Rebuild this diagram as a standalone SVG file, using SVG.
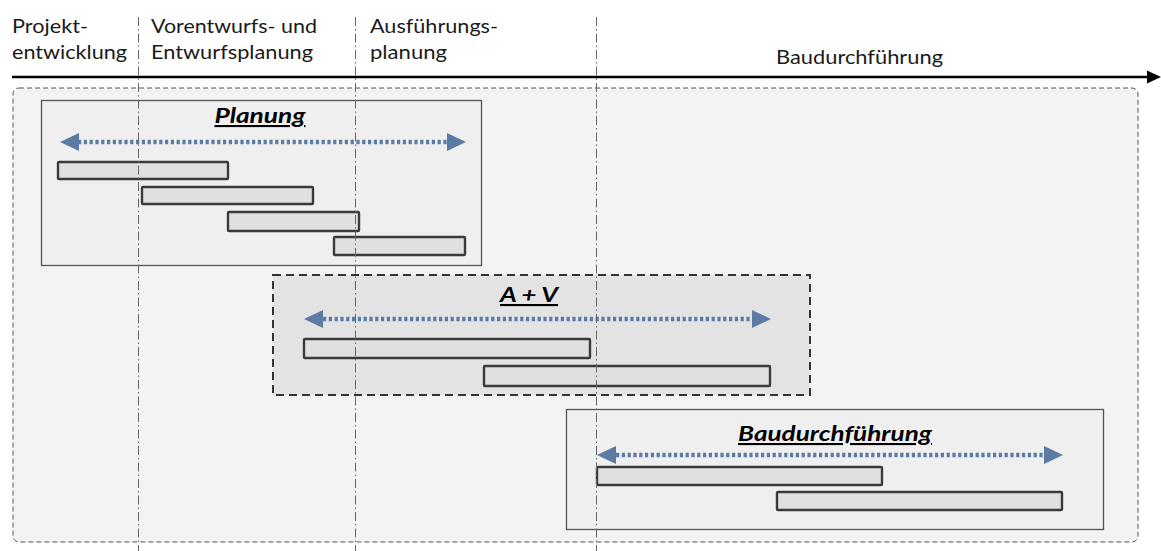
<svg xmlns="http://www.w3.org/2000/svg" width="1161" height="551" viewBox="0 0 1161 551">
  <style>
    .hdr { font-family: Lato, "Liberation Sans", sans-serif; font-size: 19px; fill: #1a1a1a; }
    .ttl { font-family: Lato, "Liberation Sans", sans-serif; font-size: 21px; font-weight: bold; font-style: italic; fill: #000; text-decoration: underline; }
    .phase { fill: #efefef; stroke: #555; stroke-width: 1.3; }
    .bar { fill: #e0e0e0; stroke: #3a3a3a; stroke-width: 2.4; }
    .span { stroke: #5b7ba4; stroke-width: 4.5; stroke-dasharray: 3.2 2.6; fill: none; }
    .head { fill: #5b7ba4; }
    .grid { stroke: #666; stroke-width: 1; stroke-dasharray: 9 3 1.5 3; fill: none; }
  </style>

  <rect width="1161" height="551" fill="#fff"/>

  <!-- phase headings -->
  <g id="headings">
    <text class="hdr" x="12" y="33" textLength="76" lengthAdjust="spacingAndGlyphs">Projekt-</text>
    <text class="hdr" x="12" y="59" textLength="115" lengthAdjust="spacingAndGlyphs">entwicklung</text>
    <text class="hdr" x="151" y="33" textLength="166" lengthAdjust="spacingAndGlyphs">Vorentwurfs- und</text>
    <text class="hdr" x="151" y="59" textLength="162" lengthAdjust="spacingAndGlyphs">Entwurfsplanung</text>
    <text class="hdr" x="370" y="33" textLength="128" lengthAdjust="spacingAndGlyphs">Ausführungs-</text>
    <text class="hdr" x="370" y="59" textLength="77" lengthAdjust="spacingAndGlyphs">planung</text>
    <text class="hdr" x="776" y="64" textLength="167" lengthAdjust="spacingAndGlyphs">Baudurchführung</text>
  </g>

  <!-- overall frame -->
  <rect id="frame" x="13" y="88" width="1125" height="454" rx="6" fill="#f3f3f3" stroke="#555" stroke-width="1" stroke-dasharray="5 3"/>

  <g id="planung">
    <rect class="phase" x="41.5" y="100.5" width="440" height="165"/>
    <text class="ttl" x="260" y="123" text-anchor="middle" textLength="91" lengthAdjust="spacingAndGlyphs">Planung</text>
    <rect class="bar" x="58" y="162" width="170" height="17" rx="1"/>
    <rect class="bar" x="142" y="187" width="171" height="17" rx="1"/>
    <rect class="bar" x="228" y="212" width="131" height="19" rx="1"/>
    <rect class="bar" x="334" y="237" width="131" height="18" rx="1"/>
  </g>

  <g id="a-und-v">
    <rect x="273" y="275" width="537" height="120" fill="#e3e3e3" stroke="#333" stroke-width="2" stroke-dasharray="8 5"/>
    <text class="ttl" x="529" y="302" text-anchor="middle" textLength="58" lengthAdjust="spacingAndGlyphs">A + V</text>
    <rect class="bar" x="304" y="339" width="286" height="19" rx="1"/>
    <rect class="bar" x="484" y="366" width="286" height="20" rx="1"/>
  </g>

  <g id="baudurchfuehrung">
    <rect class="phase" x="566.5" y="409.5" width="537" height="120"/>
    <text class="ttl" x="835" y="441" text-anchor="middle" textLength="194" lengthAdjust="spacingAndGlyphs">Baudurchführung</text>
    <rect class="bar" x="597" y="467" width="285" height="18" rx="1"/>
    <rect class="bar" x="777" y="492" width="285" height="18" rx="1"/>
  </g>

  <g id="connectors">
    <!-- time axis -->
    <line x1="12" y1="77" x2="1149" y2="77" stroke="#000" stroke-width="2.5"/>
    <polygon points="1147,70.5 1161,77 1147,83.5" fill="#000"/>

    <!-- span of the planning phase -->
    <line class="span" x1="78" y1="142" x2="448" y2="142"/>
    <polygon class="head" points="60,142 79,133 79,151"/>
    <polygon class="head" points="466,142 447,133 447,151"/>

    <!-- span of A + V -->
    <line class="span" x1="323" y1="319" x2="752" y2="319"/>
    <polygon class="head" points="304,319 323,310 323,328"/>
    <polygon class="head" points="771,319 752,310 752,328"/>

    <!-- span of construction -->
    <line class="span" x1="616" y1="455" x2="1044" y2="455"/>
    <polygon class="head" points="597,455 616,446 616,464"/>
    <polygon class="head" points="1063,455 1044,446 1044,464"/>
  </g>

  <!-- phase boundaries -->
  <g id="boundaries">
    <line class="grid" x1="138.5" y1="17" x2="138.5" y2="551"/>
    <line class="grid" x1="355.5" y1="17" x2="355.5" y2="551"/>
    <line class="grid" x1="596.5" y1="17" x2="596.5" y2="551"/>
  </g>
</svg>
